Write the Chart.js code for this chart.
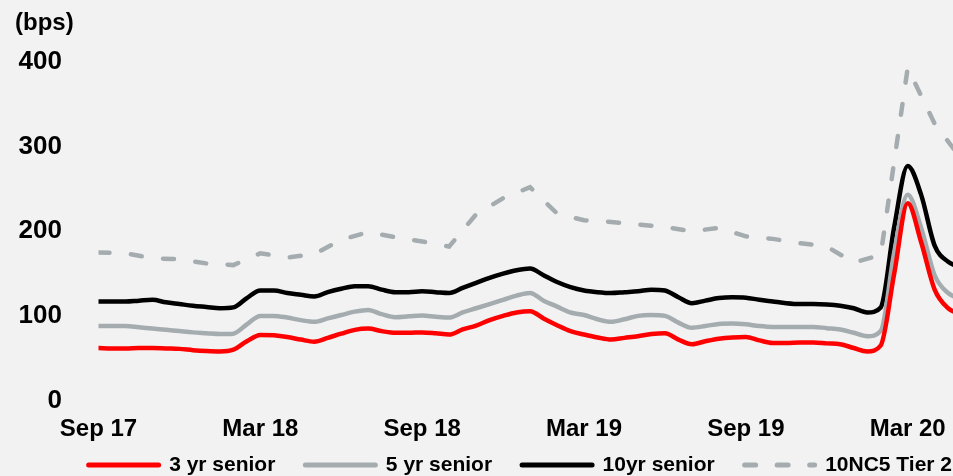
<!DOCTYPE html>
<html>
<head>
<meta charset="utf-8">
<script src="https://cdn.jsdelivr.net/npm/chart.js@4.4.1/dist/chart.umd.min.js"></script>
<style>
  html, body { margin: 0; padding: 0; background: #f2f2f2; }
  canvas { display: block; }
</style>
</head>
<body>
<canvas id="spreadChart" width="953" height="476"></canvas>
<script>
// spreads in bps, x = months since Sep 17
var tickLabels = ['Sep 17', 'Mar 18', 'Sep 18', 'Mar 19', 'Sep 19', 'Mar 20'];
var seriesNames = ['3 yr senior', '5 yr senior', '10yr senior', '10NC5 Tier 2'];

// semi-monthly readings (every half month from Sep 17)
var senior3y = [62, 61.5, 61.5, 62, 62, 61.5, 61, 59.5, 58.5, 58, 60, 70, 77.5, 77, 75, 72, 69.5, 74, 79, 83.5,
  85, 82, 80, 80, 80.5, 79.5, 78, 84, 88.5, 95, 100, 104, 105.5, 97, 89, 82, 78, 74.5, 72, 74,
  76, 78.5, 79.5, 72, 66.5, 70, 73, 74.5, 75, 71, 68, 68, 68.5, 68.5, 67.5, 66.5, 62, 58, 65, 150,
  233, 187, 131, 109, 102];
var senior5y = [88, 88, 88, 86.5, 85, 83.5, 82, 80.5, 79.5, 78.5, 79, 90, 100, 100, 98, 95, 93, 97, 101, 105,
  107, 102, 98.5, 99.5, 100.5, 99, 98, 104, 109, 114, 119, 124, 127, 118, 111, 104, 101, 96, 93, 96,
  100, 101, 100, 92, 86, 88, 90.5, 91, 90, 88, 87, 87, 87, 87, 85.5, 84, 80, 76, 82, 175,
  243, 204, 148, 127, 120];
var senior10y = [117, 117, 117, 118, 119, 116, 114, 112, 110.5, 109, 110, 121, 130, 130, 127, 125, 123, 128, 132, 135,
  135, 131, 128, 128, 129, 128, 127, 133, 139, 145, 150, 154, 156, 148, 140, 134, 130, 128, 127, 128,
  129, 131, 130, 122, 115, 118, 121, 122, 121.5, 119, 117, 115, 114, 114, 113.5, 112, 109, 104, 110, 205,
  277, 243, 183, 164, 157];
// monthly readings
var tier2 = [175, 174, 168, 167, 162, 160, 174, 169, 173, 190, 199, 193, 188, 182, 220, 239, 252, 221, 213, 211,
  208, 205, 200, 204, 194, 191, 186, 182, 163, 172, 393, 327, 285];

var yTicks = [0, 100, 200, 300, 400];

var colors = ['#ff0000', '#a5acaf', '#000000', '#a5acaf'];
var dashes = [[], [], [], [11, 21.5]];

function halfMonthly(arr) {
    return arr.map(function(v, i) { return { x: i / 2, y: v }; });
}
function monthly(arr) {
    return arr.map(function(v, i) { return { x: i, y: v }; });
}

var font = '"Liberation Sans", Arial, sans-serif';

var bpsLabel = {
    id: 'bpsLabel',
    afterDraw: function(chart) {
        var ctx = chart.ctx;
        ctx.save();
        ctx.font = 'bold 24px ' + font;
        ctx.fillStyle = '#000';
        ctx.textAlign = 'left';
        ctx.textBaseline = 'alphabetic';
        ctx.fillText('(bps)', 15, 30);
        ctx.restore();
    }
};

var lineStyle = function(i) {
    return {
        label: seriesNames[i],
        borderColor: colors[i],
        backgroundColor: colors[i],
        borderWidth: 4.5,
        borderDash: dashes[i],
        borderCapStyle: 'round',
        pointRadius: 0,
        fill: false
    };
};

var datasets = [
    Object.assign(lineStyle(0), { data: halfMonthly(senior3y), cubicInterpolationMode: 'monotone' }),
    Object.assign(lineStyle(1), { data: halfMonthly(senior5y), cubicInterpolationMode: 'monotone' }),
    Object.assign(lineStyle(2), { data: halfMonthly(senior10y), cubicInterpolationMode: 'monotone' }),
    Object.assign(lineStyle(3), { data: monthly(tier2), tension: 0 })
];

new Chart(document.getElementById('spreadChart').getContext('2d'), {
    type: 'line',
    data: { datasets: datasets },
    plugins: [bpsLabel],
    options: {
        responsive: false,
        animation: false,
        layout: { padding: { left: 0, right: -29, top: 62, bottom: -9.5 } },
        plugins: {
            title: { display: false },
            tooltip: { enabled: false },
            legend: {
                position: 'bottom',
                align: 'end',
                labels: {
                    usePointStyle: true,
                    pointStyle: 'line',
                    pointStyleWidth: 70,
                    padding: 30,
                    color: '#000',
                    font: { family: font, size: 21, weight: 'bold' },
                    generateLabels: function(chart) {
                        var items = Chart.defaults.plugins.legend.labels.generateLabels(chart);
                        return items.map(function(it, i) {
                            it.lineWidth = 5;
                            it.strokeStyle = colors[i];
                            it.lineDash = dashes[i];
                            it.lineCap = 'round';
                            it.pointStyle = 'line';
                            return it;
                        });
                    }
                }
            }
        },
        scales: {
            x: {
                type: 'linear',
                min: 0,
                max: 31.68,
                grid: { display: false, drawTicks: false },
                border: { display: false },
                ticks: {
                    stepSize: 6,
                    includeBounds: false,
                    autoSkip: false,
                    maxRotation: 0,
                    // mirrored so the labels are not clipped to the short axis box
                    mirror: true,
                    padding: -43.5,
                    color: '#000',
                    font: { family: font, size: 24, weight: 'bold' },
                    callback: function(v) {
                        return v % 6 === 0 ? (tickLabels[v / 6] || '') : '';
                    }
                },
                afterFit: function(scale) { scale.height = 24; }
            },
            y: {
                min: yTicks[0],
                max: yTicks[yTicks.length - 1],
                grid: { display: false, drawTicks: false },
                border: { display: false },
                ticks: {
                    stepSize: 100,
                    padding: 36.5,
                    color: '#000',
                    font: { family: font, size: 26, weight: 'bold' }
                },
                afterFit: function(scale) { scale.width = 98.5; }
            }
        }
    }
});
</script>
</body>
</html>
